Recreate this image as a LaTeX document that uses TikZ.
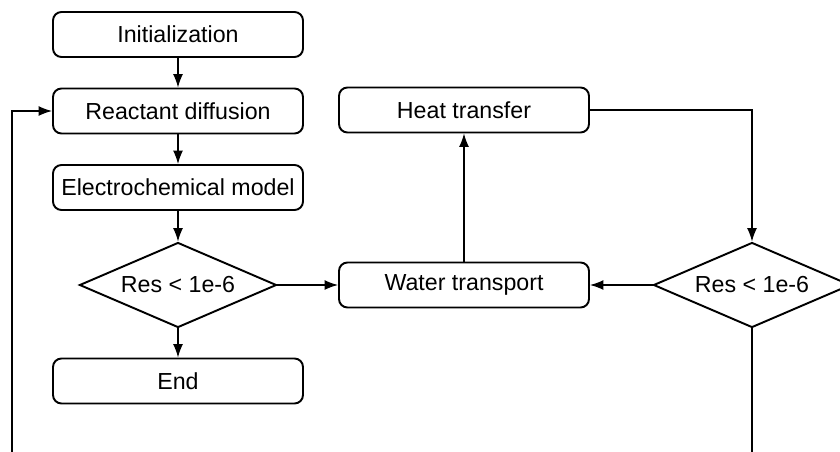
\documentclass[tikz,border=0pt]{standalone}
\usepackage{fontspec}
\setmainfont{Liberation Sans}
\usetikzlibrary{shapes.geometric,arrows.meta}

\begin{document}
\begin{tikzpicture}[
  stepbox/.style={draw, line width=1.1pt, rounded corners=0.17cm, minimum width=5cm, minimum height=0.9cm, inner sep=0pt},
  test/.style={draw, line width=1.1pt, diamond, shape aspect=2.3, minimum width=3.94cm, minimum height=1.7cm, inner sep=0pt},
  link/.style={line width=0.75pt, -{Latex[length=0.27cm,width=0.2cm]}},
  font=\fontsize{13.2}{15}\selectfont]
\clip (0,0) rectangle (16.8,9.02);
\useasboundingbox (0,0) rectangle (16.8,9.02);

\node[stepbox] (init) at (3.56,8.33) {Initialization};
\node[stepbox] (react) at (3.56,6.80) {Reactant diffusion};
\node[stepbox] (elec) at (3.56,5.27) {Electrochemical model};
\node[test] (res1) at (3.56,3.32) {Res < 1e-6};
\node[stepbox] (fin) at (3.56,1.40) {End};
\node[stepbox] (heat) at (9.28,6.82) {Heat transfer};
\node[stepbox] (water) at (9.28,3.32) {Water transport};
\node[test] (res2) at (15.04,3.32) {Res < 1e-6};
\coordinate (loopR) at (15.04,-0.5);
\coordinate (loopL) at (0.24,-0.5);

\draw[link] (init) -- (react);
\draw[link] (react) -- (elec);
\draw[link] (elec) -- (res1);
\draw[link] (res1) -- (fin);
\draw[link] (res1) -- (water);
\draw[link] (water) -- (heat);
\draw[link] (heat) -| (res2);
\draw[link] (res2) -- (water);
\draw[link] (res2.south) -- (loopR) -- (loopL) |- (react);
\end{tikzpicture}
\end{document}
